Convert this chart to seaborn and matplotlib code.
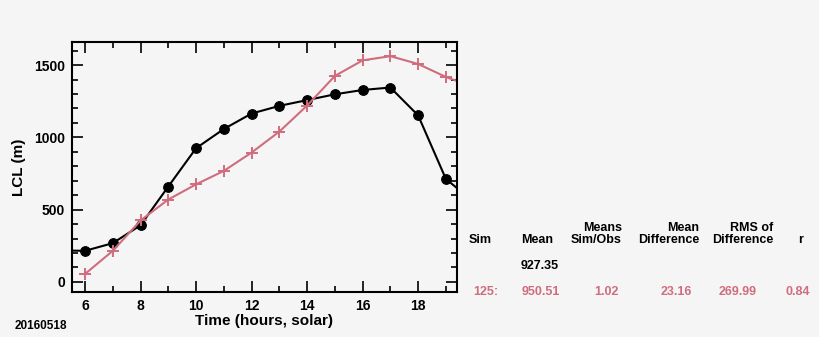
import matplotlib
matplotlib.use("Agg")
import matplotlib.pyplot as plt
import seaborn as sns
import pandas as pd
from matplotlib.ticker import MultipleLocator

sns.set_theme(style="ticks")
plt.rcParams['font.family'] = ['Liberation Sans', 'DejaVu Sans']
plt.rcParams['font.weight'] = 'bold'
plt.rcParams['text.color'] = 'black'
plt.rcParams['axes.labelcolor'] = 'black'
plt.rcParams['xtick.color'] = 'black'
plt.rcParams['ytick.color'] = 'black'

# data
hours_obs = [5, 6, 7, 8, 9, 10, 11, 12, 13, 14, 15, 16, 17, 18, 19, 20]
lcl_obs = [218, 215, 268, 392, 660, 925, 1058, 1165, 1218, 1258, 1298, 1328, 1345, 1152, 712, 555]
hours_sim = [6, 7, 8, 9, 10, 11, 12, 13, 14, 15, 16, 17, 18, 19, 20]
lcl_sim = [55, 215, 425, 570, 675, 768, 895, 1040, 1220, 1425, 1533, 1562, 1508, 1418, 1348]

date_label = "20160518"
hdr_top = ["", "", "Means", "Mean", "RMS of", ""]
hdr_bot = ["Sim", "Mean", "Sim/Obs", "Difference", "Difference", "r"]
obs_row = ["", "927.35", "", "", "", ""]
sim_row = ["125:", "950.51", "1.02", "23.16", "269.99", "0.84"]

pink = "#cf6d7e"
bg = "#f5f5f5"

fig = plt.figure(figsize=(8.2, 3.37), dpi=100, facecolor=bg)
ax = fig.add_axes([72/820, 1-292/337, (457-72)/820, (292-42)/337])
ax.set_facecolor(bg)

df_obs = pd.DataFrame({"t": hours_obs, "v": lcl_obs})
df_sim = pd.DataFrame({"t": hours_sim, "v": lcl_sim})
sns.lineplot(data=df_obs, x="t", y="v", ax=ax, color="black", lw=1.5,
             marker="o", markersize=7, markeredgecolor="black")
sns.lineplot(data=df_sim, x="t", y="v", ax=ax, color=pink, lw=1.5,
             marker="+", markersize=8, markeredgewidth=1.4, markeredgecolor=pink)

ax.set_xlim(5.53, 19.4)
ax.set_ylim(-70, 1660)
ax.xaxis.set_major_locator(MultipleLocator(2))
ax.xaxis.set_minor_locator(MultipleLocator(1))
ax.yaxis.set_major_locator(MultipleLocator(500))
ax.yaxis.set_minor_locator(MultipleLocator(100))
ax.tick_params(which="both", direction="in", top=True, right=True, width=1.2,
               colors="black", labelcolor="black")
ax.tick_params(which="major", length=8, labelsize=10, pad=5)
ax.tick_params(which="minor", length=4)
for lab in ax.get_xticklabels() + ax.get_yticklabels():
    lab.set_fontweight("bold")
for s in ax.spines.values():
    s.set_linewidth(1.5)
    s.set_color("black")
ax.set_xlabel("Time (hours, solar)", fontsize=11, fontweight="bold", labelpad=1, color="black")
ax.set_ylabel("LCL (m)", fontsize=11, fontweight="bold", labelpad=6, color="black")

fig.text(15/820, 1-326/337, date_label, fontsize=8.5, fontweight="bold", va="center", ha="left", color="black")

# stats table
col_x = [469, 521, 622, 699, 773, 801]
col_ha = ["left", "left", "right", "right", "right", "center"]
fs = 9
for i in range(6):
    fig.text(col_x[i]/820, 1-228/337, hdr_top[i], fontsize=fs, fontweight="bold", ha=col_ha[i], va="center", color="black")
    fig.text(col_x[i]/820, 1-240/337, hdr_bot[i], fontsize=fs, fontweight="bold", ha=col_ha[i], va="center", color="black")
    fig.text(col_x[i]/820, 1-266/337, obs_row[i], fontsize=fs, fontweight="bold", ha=col_ha[i], va="center", color="black")
val_x = [473, 522, 619, 692, 757, 810]
val_ha = ["left", "left", "right", "right", "right", "right"]
for i in range(6):
    fig.text(val_x[i]/820, 1-292/337, sim_row[i], fontsize=fs, fontweight="bold", color=pink,
             ha=val_ha[i], va="center")

fig.savefig("out.png", dpi=100, facecolor=bg)
